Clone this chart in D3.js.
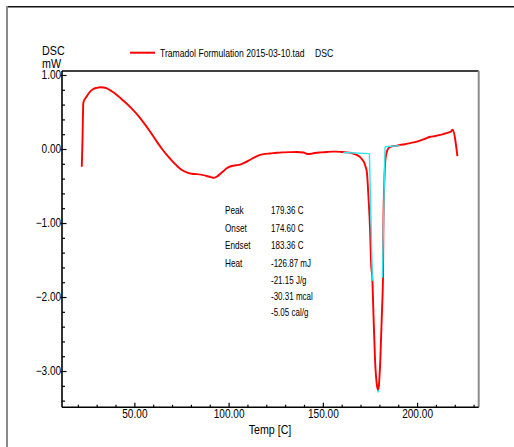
<!DOCTYPE html>
<html>
<head>
<meta charset="utf-8">
<script src="https://cdn.jsdelivr.net/npm/d3@7"></script>
<style>
  html, body { margin: 0; padding: 0; background: #fff; }
  svg { display: block; }
  text { font-family: 'Liberation Sans', Arial, sans-serif; fill: #000; }
</style>
</head>
<body>
<svg id="chart" width="514" height="447"></svg>
<script>
// DSC thermogram: temperature (C) vs heat flow (mW)
const temps = [22.1, 22.5, 22.9, 23.6, 24.7, 26.0, 28.2, 30.0, 31.8, 33.6, 35.4, 38.0, 40.7, 43.0,
  45.0, 47.7, 51.0, 54.8, 58.5, 61.9, 65.0, 67.2, 70.0, 72.5, 75.0, 77.8, 80.5, 83.1, 86.0, 88.4,
  90.5, 92.3, 94.0, 95.8, 97.2, 99.0, 101.7, 104.0, 106.1, 108.5, 111.4, 114.0, 116.7, 119.5,
  122.0, 125.5, 129.1, 132.5, 136.2, 139.7, 142.4, 144.2, 145.9, 149.0, 152.1, 155.0, 157.4,
  160.0, 162.7, 165.2, 167.1, 168.7, 169.8, 170.8, 171.9, 172.8, 173.4, 174.2, 175.06, 175.6,
  176.3, 176.8, 177.7, 178.5, 179.1, 179.6, 180.5, 181.4, 181.95, 182.1, 182.65, 183.4, 184.8,
  186.0, 187.5, 189.5, 191.0, 193.5, 196.3, 199.9, 203.4, 207.0, 209.6, 212.3, 214.9, 217.0,
  218.0, 218.8, 221.4];
const heatFlow = [-0.24, 0.15, 0.62, 0.67, 0.71, 0.76, 0.81, 0.826, 0.834, 0.832, 0.82, 0.78, 0.73, 0.68,
  0.635, 0.57, 0.48, 0.36, 0.23, 0.10, -0.01, -0.08, -0.16, -0.225, -0.28, -0.315, -0.335, -0.34, -0.35, -0.365,
  -0.38, -0.39, -0.37, -0.33, -0.30, -0.26, -0.23, -0.22, -0.21, -0.185, -0.145, -0.11, -0.08, -0.065,
  -0.06, -0.05, -0.045, -0.042, -0.04, -0.048, -0.068, -0.062, -0.054, -0.046, -0.04, -0.036, -0.036,
  -0.04, -0.045, -0.055, -0.068, -0.09, -0.11, -0.14, -0.18, -0.25, -0.32, -0.64, -1.09, -1.54,
  -1.77, -2.18, -2.85, -3.15, -3.25, -3.22, -2.85, -2.18, -1.68, -1.09, -0.42, -0.10, 0.01,
  0.03, 0.04, 0.045, 0.055, 0.065, 0.08, 0.10, 0.13, 0.165, 0.175, 0.19, 0.21, 0.225,
  0.235, 0.26, -0.095];

// Peak analysis construction lines (baseline and onset/endset tangents)
const baselineLeft = [[160.9, -0.048], [174.7, -0.062]];
const onsetTangent = [[174.7, -0.062], [176.3, -1.78]];
const endsetTangent = [[181.6, -1.74], [183.0, 0.03]];
const baselineRight = [[183.0, 0.03], [190.7, 0.045]];
const peakTip = [[178.9, -3.18], [179.35, -3.29], [179.8, -3.18]];

const annotationKeys = ["Peak", "Onset", "Endset", "Heat"];
const annotationValues = ["179.36 C", "174.60 C", "183.36 C", "-126.87 mJ", "-21.15 J/g", "-30.31 mcal", "-5.05 cal/g"];

const xMajorTicks = [50, 100, 150, 200];
const xMinorTicks = [20, 30, 40, 60, 70, 80, 90, 110, 120, 130, 140, 160, 170, 180, 190, 210, 220, 230];
const yMajorTicks = [1, 0, -1, -2, -3];
const yMinorTicks = [0.8, 0.6, 0.4, 0.2, -0.2, -0.4, -0.6, -0.8, -1.2, -1.4, -1.6, -1.8,
  -2.2, -2.4, -2.6, -2.8, -3.2, -3.4];

const legendLabel = "Tramadol Formulation 2015-03-10.tad";
const legendSignal = "DSC";
const yTitle = ["DSC", "mW"];
const xTitle = "Temp  [C]";

const svg = d3.select("#chart");
const plotLeft = 62, plotRight = 478.7, plotTop = 71, plotBottom = 407.3;

const x = d3.scaleLinear().domain([11.6, 232.7]).range([plotLeft, plotRight]);
const y = d3.scaleLinear().domain([-3.49, 1.054]).range([plotBottom, plotTop]);

// condensed text: horizontally compressed sans
function label(px, py, str, size, sx, anchor) {
  return svg.append("text")
    .attr("transform", `translate(${px},${py}) scale(${sx},1)`)
    .attr("text-anchor", anchor || "start")
    .style("font-size", size + "px")
    .text(str);
}

// outer window frame
svg.append("line").attr("x1", 6).attr("x2", 514).attr("y1", 6.7).attr("y2", 6.7)
  .attr("stroke", "#111").attr("stroke-width", 1.6);
svg.append("line").attr("x1", 7).attr("x2", 7).attr("y1", 6).attr("y2", 447)
  .attr("stroke", "#8a8a8a").attr("stroke-width", 2);

// plot frame
svg.append("line").attr("x1", plotLeft).attr("x2", plotRight).attr("y1", plotTop).attr("y2", plotTop)
  .attr("stroke", "#000").attr("stroke-width", 1.4);
svg.append("line").attr("x1", plotRight).attr("x2", plotRight).attr("y1", plotTop).attr("y2", plotBottom)
  .attr("stroke", "#8c8c8c").attr("stroke-width", 2);

// axes
const fmt = d3.format(".2f");
const gx = svg.append("g").attr("transform", `translate(0,${plotBottom})`);
gx.call(d3.axisBottom(x).tickValues(xMinorTicks).tickSize(-2.5).tickFormat(""));
gx.call(g => g.selectAll(".domain").remove());
const gxMaj = svg.append("g").attr("transform", `translate(0,${plotBottom})`);
gxMaj.call(d3.axisBottom(x).tickValues(xMajorTicks).tickSizeInner(-4.5).tickSizeOuter(0).tickPadding(2).tickFormat(fmt));
gxMaj.select(".domain").remove();

const gy = svg.append("g").attr("transform", `translate(${plotLeft},0)`);
gy.call(d3.axisLeft(y).tickValues(yMinorTicks).tickSize(-3).tickFormat(""));
gy.call(g => g.selectAll(".domain").remove());
const gyMaj = svg.append("g").attr("transform", `translate(${plotLeft},0)`);
gyMaj.call(d3.axisLeft(y).tickValues(yMajorTicks).tickSizeInner(-4.5).tickSizeOuter(0).tickPadding(1).tickFormat(fmt));
gyMaj.select(".domain").remove();
gyMaj.selectAll(".tick line").attr("x1", -1.5);

svg.selectAll(".tick line").attr("stroke", "#000").attr("stroke-width", 1.2);
svg.selectAll(".tick text").style("font-size", "12px").attr("fill", "#000")
  .attr("transform", "scale(0.84,1)");

svg.append("line").attr("x1", plotLeft).attr("x2", plotRight).attr("y1", plotBottom).attr("y2", plotBottom)
  .attr("stroke", "#000").attr("stroke-width", 1.6);
svg.append("line").attr("x1", plotLeft).attr("x2", plotLeft).attr("y1", plotTop).attr("y2", plotBottom)
  .attr("stroke", "#000").attr("stroke-width", 1.6);

// axis titles
label(42, 54.5, yTitle[0], 12.5, 0.86);
label(42, 67.5, yTitle[1], 12.5, 0.86);
label(270, 433.5, xTitle, 13, 0.82, "middle");

// legend
svg.append("line").attr("x1", 130).attr("x2", 155).attr("y1", 52.7).attr("y2", 52.7)
  .attr("stroke", "#ff0000").attr("stroke-width", 2);
label(160, 56.5, legendLabel, 10.5, 0.82);
label(315, 56.5, legendSignal, 10.5, 0.82);

// curves
const line = d3.line().x(d => x(d[0])).y(d => y(d[1]));
const cyan = "#2ee6f0";
svg.append("path").datum(peakTip).attr("d", line).attr("fill", "none")
  .attr("stroke", cyan).attr("stroke-width", 1.6);

const dscPoints = temps.map((t, i) => [t, heatFlow[i]]);
svg.append("path").datum(dscPoints)
  .attr("d", d3.line().x(d => x(d[0])).y(d => y(d[1])).curve(d3.curveMonotoneX))
  .attr("fill", "none").attr("stroke", "#ff0000").attr("stroke-width", 1.9)
  .attr("stroke-linejoin", "round");

[baselineLeft, onsetTangent, endsetTangent, baselineRight].forEach(seg => {
  svg.append("path").datum(seg).attr("d", line).attr("fill", "none")
    .attr("stroke", cyan).attr("stroke-width", 1.4);
});

// peak analysis annotation
const keyRows = [210, 228, 245, 263];
const valRows = [210, 228, 245, 263, 280, 296, 312];
annotationKeys.forEach((k, i) => {
  label(225, keyRows[i] + 3.5, k, 10, 0.82);
});
annotationValues.forEach((v, i) => {
  label(271, valRows[i] + 3.5, v, 10, 0.8);
});
</script>
</body>
</html>
